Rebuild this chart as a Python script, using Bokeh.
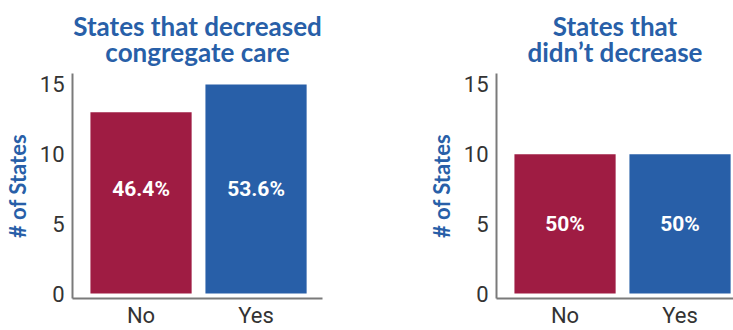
from bokeh.plotting import figure
from bokeh.layouts import row
from bokeh.models import Range1d, FixedTicker, Title, ColumnDataSource
from bokeh.core.properties import value
from bokeh.embed import file_html
from bokeh.resources import INLINE

categories = ["No", "Yes"]
left_values = [13, 15]
left_labels = ["46.4%", "53.6%"]
right_values = [10, 10]
right_labels = ["50%", "50%"]
y_ticks = [0, 5, 10, 15]
left_title = ["States that decreased", "congregate care"]
right_title = ["States that", "didn\u2019t decrease"]
y_label = "# of States"

RED = "#9f1c43"
BLUE = "#285fa8"
COND = "Roboto"
TFONT = "Lato"

HAS_TEXT_ALIGN = "text_align" in Title.properties()


def panel(values, labels, title_lines, width, border_left, border_right, x_end, title_offset):
    xs = list(range(len(categories)))
    p = figure(width=width, height=330, output_backend="svg", toolbar_location=None,
               x_range=Range1d(-0.596, x_end), y_range=Range1d(-0.357, 15.786),
               min_border_left=border_left, min_border_right=border_right,
               min_border_top=73, min_border_bottom=31)
    src = ColumnDataSource(dict(x=xs, top=values, color=[RED, BLUE],
                                label=labels,
                                ly=[max(values) / 2.0] * len(values)))
    p.vbar(x="x", top="top", bottom=0, width=0.88, color="color", line_color=None, source=src)
    p.text(x="x", y="ly", text="label", source=src, text_color="white",
           text_font=value(COND), text_font_size="21px", text_font_style="bold",
           text_align="center", text_baseline="middle")

    p.xgrid.visible = False
    p.ygrid.visible = False
    p.outline_line_color = None
    p.background_fill_color = None
    p.border_fill_color = "white"

    for ax in (p.xaxis[0], p.yaxis[0]):
        ax.axis_line_color = "#7a7a7a"
        ax.axis_line_width = 2
        ax.major_tick_line_color = None
        ax.minor_tick_line_color = None
        ax.major_tick_out = 0
        ax.major_tick_in = 0
        ax.major_label_text_font = COND
        ax.major_label_text_font_size = "22px"
        ax.major_label_text_color = "#333333"

    p.xaxis.major_label_standoff = 4
    p.yaxis.major_label_standoff = 8
    p.xaxis.ticker = FixedTicker(ticks=xs)
    p.xaxis.major_label_overrides = {i: c for i, c in zip(xs, categories)}
    p.yaxis.ticker = FixedTicker(ticks=y_ticks)
    p.yaxis.axis_label = y_label
    p.yaxis.axis_label_text_font = TFONT
    p.yaxis.axis_label_text_font_style = "bold"
    p.yaxis.axis_label_text_font_size = "22px"
    p.yaxis.axis_label_text_color = BLUE
    p.yaxis.axis_label_standoff = 6

    common = dict(align="center", text_font=TFONT, text_font_style="bold",
                  text_font_size="26px", text_color=BLUE, offset=title_offset)
    if HAS_TEXT_ALIGN:
        t = Title(text="\n".join(title_lines), standoff=10, text_line_height=0.82, **common)
        t.text_align = "center"
        p.add_layout(t, "above")
    else:
        for i, line in enumerate(reversed(title_lines)):
            p.add_layout(Title(text=line, standoff=8 if i == 0 else 0, **common), "above")
    return p


p1 = panel(left_values, left_labels, left_title, 366, 72, 44, 1.578, -5)
p2 = panel(right_values, right_labels, right_title, 367, 130, 0, 1.465, 0)

layout = row(p1, p2)
open("out.html", "w").write(file_html(layout, INLINE))
